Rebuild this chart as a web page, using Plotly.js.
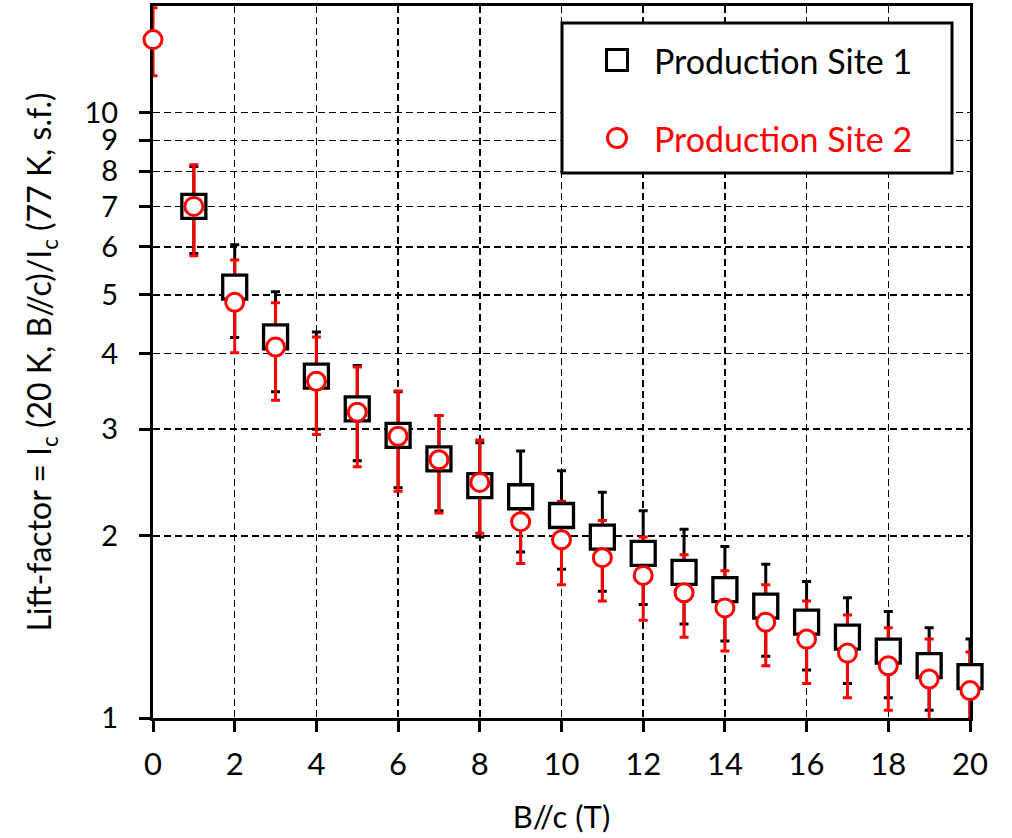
<!DOCTYPE html>
<html>
<head>
<meta charset="utf-8">
<script src="https://cdn.plot.ly/plotly-3.0.1.min.js"></script>
<style>
  html, body { margin: 0; padding: 0; background: #fff; }
  #chart { width: 1012px; height: 838px; }
</style>
</head>
<body>
<div id="chart"></div>
<script>
// Lift-factor vs. field (B//c), two production sites
const seriesNames = ['Production Site 1', 'Production Site 2'];

const site1Field = [1, 2, 3, 4, 5, 6, 7, 8, 9, 10, 11, 12, 13, 14, 15, 16, 17, 18, 19, 20];
const site1Lift  = [7.0, 5.15, 4.26, 3.67, 3.24, 2.93, 2.68, 2.42, 2.32, 2.16, 1.99, 1.87, 1.74, 1.63, 1.53, 1.44, 1.36, 1.29, 1.22, 1.17];
const site1Err   = [1.15, 0.90, 0.80, 0.67, 0.58, 0.53, 0.48, 0.43, 0.44, 0.40, 0.37, 0.33, 0.31, 0.29, 0.265, 0.24, 0.22, 0.21, 0.19, 0.18];

const site2Field = [0, 1, 2, 3, 4, 5, 6, 7, 8, 9, 10, 11, 12, 13, 14, 15, 16, 17, 18, 19, 20];
const site2Lift  = [13.2, 7.0, 4.86, 4.10, 3.60, 3.20, 2.92, 2.67, 2.45, 2.11, 1.97, 1.84, 1.72, 1.61, 1.52, 1.44, 1.35, 1.28, 1.22, 1.16, 1.11];
const site2Err   = [1.7, 1.2, 0.85, 0.75, 0.66, 0.60, 0.55, 0.49, 0.43, 0.31, 0.31, 0.28, 0.27, 0.25, 0.23, 0.22, 0.21, 0.20, 0.19, 0.19, 0.175];

const xTicks = [0, 2, 4, 6, 8, 10, 12, 14, 16, 18, 20];
const yTicks = [1, 2, 3, 4, 5, 6, 7, 8, 9, 10];

const BLACK = '#000000';
const RED = '#ff0000';
const FONT = 'Lato, "Open Sans", sans-serif';

function errorTrace(x, y, err, color) {
  return {
    x: x, y: y, type: 'scatter', mode: 'markers',
    marker: { size: 1, opacity: 0 },
    error_y: { type: 'data', array: err, visible: true, color: color, thickness: 3, width: 4.5 },
    cliponaxis: true, showlegend: false, hoverinfo: 'skip'
  };
}

function markerTrace(x, y, name, symbol, size, color, lw) {
  return {
    x: x, y: y, name: name, type: 'scatter', mode: 'markers',
    marker: { symbol: symbol, size: size, color: '#ffffff', line: { color: color, width: lw } },
    cliponaxis: false, showlegend: false
  };
}

// error bars of both series sit below all the markers
const traces = [
  errorTrace(site1Field, site1Lift, site1Err, BLACK),
  errorTrace(site2Field, site2Lift, site2Err, RED),
  markerTrace(site1Field, site1Lift, seriesNames[0], 'square', 24, BLACK, 3.3),
  markerTrace(site2Field, site2Lift, seriesNames[1], 'circle', 18, RED, 3)
];

// plot-area pixel helpers for the legend box
const PL = 153, PW = 817, PB = 718, PH = 712;
const px = v => (v - PL) / PW;
const py = v => (PB - v) / PH;

const legendShapes = [
  { type: 'rect', xref: 'paper', yref: 'paper', x0: px(562), x1: px(952), y0: py(173), y1: py(23),
    line: { color: BLACK, width: 3 }, fillcolor: '#ffffff', layer: 'above' },
  { type: 'rect', xref: 'paper', yref: 'paper', xsizemode: 'pixel', ysizemode: 'pixel',
    xanchor: px(617), yanchor: py(60), x0: -10.5, x1: 10.5, y0: -10.5, y1: 10.5,
    line: { color: BLACK, width: 3 }, fillcolor: '#ffffff', layer: 'above' },
  { type: 'circle', xref: 'paper', yref: 'paper', xsizemode: 'pixel', ysizemode: 'pixel',
    xanchor: px(617), yanchor: py(138), x0: -9.5, x1: 9.5, y0: -9.5, y1: 9.5,
    line: { color: RED, width: 3 }, fillcolor: '#ffffff', layer: 'above' }
];

const legendText = [
  { xref: 'paper', yref: 'paper', x: px(652), y: py(60), xanchor: 'left', yanchor: 'middle',
    text: seriesNames[0], showarrow: false, font: { family: FONT, size: 34, color: BLACK } },
  { xref: 'paper', yref: 'paper', x: px(652), y: py(138), xanchor: 'left', yanchor: 'middle',
    text: seriesNames[1], showarrow: false, font: { family: FONT, size: 34, color: RED } }
];

const gridDash = '7px,4px';

const layout = {
  width: 1012, height: 838,
  margin: { l: PL, r: 1012 - PL - PW, t: 6, b: 838 - PB },
  paper_bgcolor: '#ffffff', plot_bgcolor: '#ffffff',
  font: { family: FONT, color: BLACK },
  showlegend: false,
  xaxis: {
    range: [0, 20], tickvals: xTicks, ticktext: xTicks.map(String),
    showline: true, linecolor: BLACK, linewidth: 3, mirror: true,
    ticks: 'outside', ticklen: 11, tickwidth: 3, tickcolor: BLACK,
    tickfont: { family: FONT, size: 31, color: BLACK }, ticklabelstandoff: 6,
    showgrid: true, gridcolor: BLACK, gridwidth: 1.5, griddash: gridDash,
    zeroline: false, layer: 'below traces',
    title: { text: 'B//c (T)', font: { family: FONT, size: 31, color: BLACK }, standoff: 26 }
  },
  yaxis: {
    type: 'log', range: [0, Math.log10(15)], tickvals: yTicks, ticktext: yTicks.map(String),
    showline: true, linecolor: BLACK, linewidth: 3, mirror: true,
    ticks: 'outside', ticklen: 11, tickwidth: 3, tickcolor: BLACK,
    tickfont: { family: FONT, size: 29, color: BLACK }, ticklabelstandoff: 15,
    showgrid: true, gridcolor: BLACK, gridwidth: 1.5, griddash: gridDash,
    zeroline: false, layer: 'below traces',
    title: { text: 'Lift-factor = I<sub>c</sub> (20 K, B//c)/I<sub>c</sub> (77 K, s.f.)',
             font: { family: FONT, size: 32, color: BLACK }, standoff: 24 }
  },
  shapes: legendShapes,
  annotations: legendText
};

Plotly.newPlot('chart', traces, layout, { staticPlot: true, displayModeBar: false });
</script>
</body>
</html>
